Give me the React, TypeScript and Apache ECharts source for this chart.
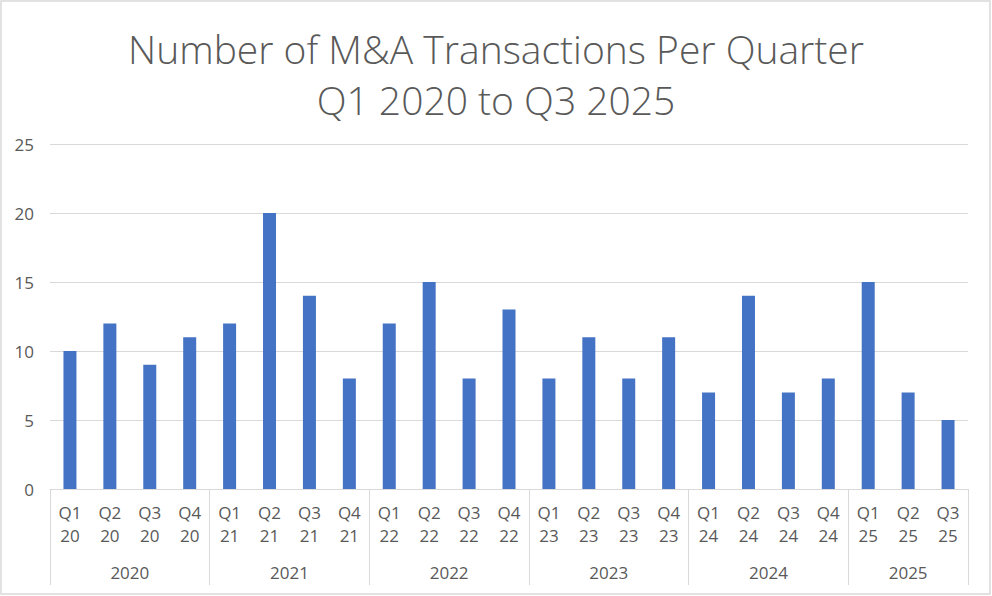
import React, { useEffect, useRef } from "react";
import * as echarts from "echarts";

const titleLines = ["Number of M&A Transactions Per Quarter", "Q1 2020 to Q3 2025"];
const categories = [
  "Q1\n20", "Q2\n20", "Q3\n20", "Q4\n20",
  "Q1\n21", "Q2\n21", "Q3\n21", "Q4\n21",
  "Q1\n22", "Q2\n22", "Q3\n22", "Q4\n22",
  "Q1\n23", "Q2\n23", "Q3\n23", "Q4\n23",
  "Q1\n24", "Q2\n24", "Q3\n24", "Q4\n24",
  "Q1\n25", "Q2\n25", "Q3\n25",
];
const transactions = [10, 12, 9, 11, 12, 20, 14, 8, 12, 15, 8, 13, 8, 11, 8, 11, 7, 14, 7, 8, 15, 7, 5];
const years = ["2020", "2021", "2022", "2023", "2024", "2025"];
// first category index of each year group
const yearStarts = [0, 4, 8, 12, 16, 20];
// centre of each year group, in category-band units
const yearCenters = [2, 6, 10, 14, 18, 21.5];
const yTicks = { min: 0, max: 25, interval: 5 };

const FONT = "'Open Sans', 'Noto Sans', sans-serif";
const TEXT = "#595959";
const GRID_LINE = "#d9d9d9";

export default function App() {
  const ref = useRef<HTMLDivElement>(null);
  useEffect(() => {
    document.body.style.margin = "0";
    if (!ref.current) return;
    const chart = echarts.init(ref.current, undefined, { renderer: "svg" });
    chart.setOption({
      animation: false,
      backgroundColor: "#ffffff",
      textStyle: { fontFamily: FONT },
      title: {
        text: titleLines.join("\n"),
        left: "center",
        top: 18,
        textStyle: {
          fontFamily: FONT,
          fontWeight: 300,
          fontSize: 39,
          lineHeight: 51,
          color: TEXT,
        },
      },
      graphic: [
        {
          type: "rect",
          shape: { x: 1, y: 1, width: 989, height: 593 },
          style: { fill: "none", stroke: GRID_LINE, lineWidth: 1.5 },
          silent: true,
        },
      ],
      grid: { left: 50, right: 24, top: 144, bottom: 107, containLabel: false },
      xAxis: [
        {
          type: "category",
          data: categories,
          boundaryGap: true,
          axisLine: { show: true, lineStyle: { color: GRID_LINE, width: 1 } },
          axisTick: {
            show: true,
            interval: (index: number) => yearStarts.indexOf(index) >= 0,
            length: 96,
            lineStyle: { color: GRID_LINE, width: 1 },
          },
          axisLabel: {
            interval: 0,
            margin: 12,
            fontFamily: FONT,
            fontSize: 17,
            lineHeight: 23,
            color: TEXT,
          },
        },
        {
          type: "value",
          position: "bottom",
          min: 0,
          max: categories.length,
          interval: 0.5,
          axisLine: { show: false },
          axisTick: { show: false },
          splitLine: { show: false },
          axisLabel: {
            margin: 73,
            fontFamily: FONT,
            fontSize: 17,
            lineHeight: 20,
            color: TEXT,
            showMinLabel: true,
            showMaxLabel: true,
            formatter: (v: number) => {
              const i = yearCenters.indexOf(v);
              return i >= 0 ? years[i] : "";
            },
          },
        },
      ],
      yAxis: {
        type: "value",
        min: yTicks.min,
        max: yTicks.max,
        interval: yTicks.interval,
        axisLine: { show: false },
        axisTick: { show: false },
        splitLine: { lineStyle: { color: GRID_LINE, width: 1 } },
        axisLabel: { margin: 16, fontFamily: FONT, fontSize: 17, color: TEXT },
      },
      series: [
        {
          type: "bar",
          name: "Transactions",
          xAxisIndex: 0,
          data: transactions,
          barWidth: 13,
          itemStyle: { color: "#4472c4" },
        },
      ],
    });
    return () => chart.dispose();
  }, []);
  return <div ref={ref} style={{ width: 992, height: 596 }} />;
}
